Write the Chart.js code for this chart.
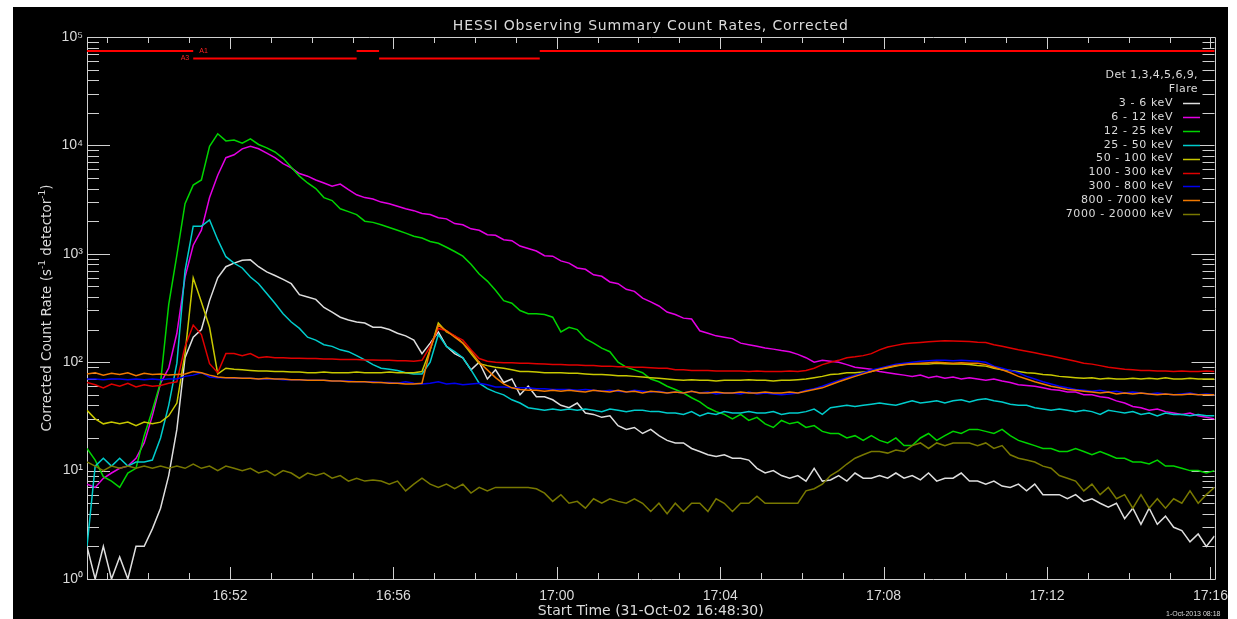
<!DOCTYPE html>
<html>
<head>
<meta charset="utf-8">
<title>HESSI Observing Summary Count Rates, Corrected</title>
<script src="https://cdn.jsdelivr.net/npm/chart.js@4.4.1/dist/chart.umd.min.js"></script>
<style>
html, body { margin: 0; padding: 0; background: #ffffff; }
canvas { display: block; }
</style>
</head>
<body>
<canvas id="rates" width="1237" height="619"></canvas>
<script>
// Bin start times, seconds after 31-Oct-02 16:48:30 UT
const binTimes = [0,12,24,36,48,60,72,84,96,108,120,132,144,156,168,180,192,204,216,228,240,252,264,276,288,300,312,324,336,348,360,372,384,396,408,420,432,444,456,468,480,492,504,516,528,540,552,564,576,588,600,612,624,636,648,660,672,684,696,708,720,732,744,756,768,780,792,804,816,828,840,852,864,876,888,900,912,924,936,948,960,972,984,996,1008,1020,1032,1044,1056,1068,1080,1092,1104,1116,1128,1140,1152,1164,1176,1188,1200,1212,1224,1236,1248,1260,1272,1284,1296,1308,1320,1332,1344,1356,1368,1380,1392,1404,1416,1428,1440,1452,1464,1476,1488,1500,1512,1524,1536,1548,1560,1572,1584,1596,1608,1620,1632,1644,1656];

// Corrected count rates (s^-1 detector^-1) per energy band
const rate3to6 = [2,1,2,1,1.6,1,2,2,2.9,4.5, 9,24,110,170,200,370,600,760,820,870, 880,760,680,630,580,530,420,400,380,320, 290,260,245,235,230,210,210,200,185,175, 160,120,150,190,140,120,110,85,100,70, 85,65,70,50,60,48,48,45,40,38, 42,34,33,31,32,26,24,25,22,24, 21,19,18,18,16,15,14,13.5,14,13, 13,12.5,10.5,9.5,10,9,8.5,9,8,10.5, 8,8.2,9,8,9.5,8.5,8.5,9,8.5,9.5, 8.5,9,8.2,9.5,8,8.5,8.5,9.5,8,8, 7.5,8,7.2,7,7.5,6.5,7.5,6,6,6, 5.5,6,5.2,5.5,5,4.6,5,3.6,4.5,3.2, 4.5,3.2,3.8,3,2.8,2.2,2.6,2,2.5];
const rate6to12 = [7.5,7,8.5,9.5,10.5,11,13,18,32,64, 88,185,610,1200,1650,3300,5300,7700,8200,9300, 9800,9300,8500,7700,6800,6200,5500,5200,4800,4500, 4200,4400,3900,3500,3300,3200,3000,2900,2750,2600, 2500,2350,2300,2150,2100,1900,1850,1700,1650,1500, 1480,1350,1320,1180,1120,1060,960,950,860,820, 740,720,640,620,550,530,470,450,390,360, 330,290,275,255,250,195,185,175,170,165, 150,145,140,135,132,128,125,118,110,100, 104,102,100,95,90,88,86,82,80,78, 76,74,76,72,74,71,73,70,72,70, 68,70,67,65,62,61,60,58,56,55, 53,53,50,50,48,47,44,42,39,38, 36,37,35,34,33,34,32,31,30];
const rate12to25 = [16,12.5,8.8,8,7,9.5,10.5,21,36,65, 340,970,2900,4300,4800,9800,12800,11000,11200,10500, 11500,10200,9500,8700,7600,6300,5200,4500,4000,3300, 3100,2600,2450,2300,2000,1950,1850,1750,1650,1550, 1450,1400,1300,1250,1150,1050,950,800,650,560, 460,370,350,300,280,280,275,260,190,210, 200,165,150,135,125,100,90,85,80,70, 66,60,56,52,47,43,38,35,33,30, 33,29,31,27,25,29,27,28,25,26, 23,22,22,20,21,19,21,19,18,20, 17,17,20,22,19,21,23,22,24,24, 23,22,24,21,19,18,17,16,16,15, 15,16,15,14,15,14,13,13,12,12, 11.5,12.5,11,11,10.5,10,10,9.5,10];
const rate25to50 = [2,11,13,11,13,11,12,12,12.5,20, 40,98,700,1800,1800,2050,1350,940,820,740, 610,530,430,350,280,235,205,170,160,145, 140,130,125,115,105,95,88,86,84,80, 78,78,100,180,140,125,110,85,64,57, 53,50,45,42,38,37,36,37,36,37, 36,37,36,35,37,36,35,36,36,35, 35,34,34,33,35,32,34,33,35,34, 34,35,34,34,35,33,34,34,35,37, 33,38,39,40,39,40,41,42,41,40, 42,44,42,43,44,42,44,45,43,45, 46,44,43,41,40,40,38,37,36,37, 36,35,36,35,33,36,35,34,35,33, 34,32,34,33,33,32,33,32,32];
const rate50to100 = [36,30,27,28,27,28,26,28,27,28, 32,42,120,600,360,210,78,88,86,85, 84,83,83,82,82,81,81,80,80,81, 80,80,80,81,80,80,80,81,80,80, 80,82,130,230,190,175,150,120,97,93, 90,88,85,82,82,81,80,80,80,79, 79,78,77,77,76,75,75,74,73,72, 71,70,69,68,69,68,68,67,68,68, 68,69,68,68,67,68,68,69,70,72, 74,77,78,80,80,81,82,86,89,92, 95,96,97,96,98,97,96,96,95,93, 92,88,85,84,82,80,79,77,76,74, 73,72,71,72,70,71,70,70,71,70, 71,70,72,70,70,71,70,70,70];
const rate100to300 = [65,62,58,63,60,64,59,62,60,61, 64,66,140,220,180,97,80,120,120,115, 120,110,112,110,110,109,109,108,108,107, 107,106,106,106,105,105,104,104,103,103, 102,104,140,205,195,175,160,130,108,102, 100,99,99,98,98,97,96,95,95,94, 94,93,93,92,92,91,91,90,90,89, 88,88,85,85,84,84,84,83,83,83, 83,82,83,82,82,82,83,82,84,88, 95,100,104,110,112,115,120,130,138,143, 148,150,152,154,156,158,157,156,155,153, 152,145,140,135,130,126,122,118,114,110, 106,102,98,96,93,90,88,86,85,84, 84,83,83,82,83,82,82,83,82];
const rate300to800 = [70,70,69,70,70,69,70,69,70,69, 70,70,74,76,80,73,72,72,71,71, 71,70,70,70,69,69,69,68,68,68, 67,67,67,66,66,66,65,65,64,66, 64,63,64,66,63,64,62,63,64,62, 59,59,58,58,58,57,57,56,56,56, 55,56,55,54,55,54,53,55,54,53, 54,52,53,52,54,52,53,51,52,52, 51,53,51,52,51,50,51,52,55,57, 60,64,68,72,76,80,85,88,92,96, 98,100,102,103,104,104,103,104,103,102, 100,92,88,84,80,74,70,66,63,60, 58,56,55,54,55,53,54,52,53,52, 51,52,51,50,51,52,50,51,50];
const rate800to7000 = [78,80,76,79,77,80,75,79,77,78, 76,77,78,82,80,76,73,72,72,71, 71,70,71,70,70,69,69,68,68,68, 67,67,66,66,66,65,65,64,64,63, 63,64,130,220,195,170,150,125,100,85, 72,63,58,56,55,55,54,55,54,55, 54,53,55,54,53,55,53,54,52,54, 53,52,53,52,54,52,52,53,52,52, 53,52,52,53,52,52,53,52,54,56, 58,62,66,70,74,78,82,86,90,93, 95,97,98,99,100,99,98,99,98,98, 95,90,85,80,74,70,66,63,60,58, 56,55,54,53,52,53,51,52,51,52, 51,50,51,50,50,51,50,50,50];
const rate7000to20000 = [12,11,10,11,10.5,11,10.5,11,10.5,11, 10.5,11,10.5,11.5,10.5,11,10,11,10.5,10, 10.5,9.5,10,9,10,9.5,8.5,9.5,9,9.5, 8.5,9,8,8.5,8,8.2,8,7.5,8,6.5, 7.5,8.5,7.5,7,7.5,6.8,7.5,6.2,7,6.5, 7,7,7,7,7,6.8,6.2,5.2,6,5, 5.2,4.5,5.5,5,5.5,5.2,5,5.5,5,4.2, 5,4,5,4.2,5,5,4.2,5.5,5,4.2, 5,5,5.8,5,5,5,5,5,6.5,6.8, 7.5,9,10,11.5,13,14,15,15,14.5,15.5, 15,17,18,16,18,17,18,18,18,17, 18,16,17,14,13,12.5,12,11,10.5,9, 8.5,8,6.5,7.5,6,7,5.5,6,4.5,6, 4.5,5.5,4.5,5.5,5,6.5,5,6,7];

const bandNames = ['3 - 6 keV','6 - 12 keV','12 - 25 keV','25 - 50 keV','50 - 100 keV','100 - 300 keV','300 - 800 keV','800 - 7000 keV','7000 - 20000 keV'];
const bandRates = [rate3to6, rate6to12, rate12to25, rate25to50, rate50to100, rate100to300, rate300to800, rate800to7000, rate7000to20000];
const bandColors = ['#dedede','#e400e4','#00d400','#00cccc','#c8c800','#e00000','#0000f0','#f07800','#787800'];

// Axis ticks
const xTickSeconds = [210,450,690,930,1170,1410,1650];
const xTickLabels = ['16:52','16:56','17:00','17:04','17:08','17:12','17:16'];
const yTickValues = [1,10,100,1000,10000,100000];
const yTickLabels = ['10\u2070','10\u00b9','10\u00b2','10\u00b3','10\u2074','10\u2075'];

// Attenuator state intervals (seconds after start)
const attenuatorState = ['A1','A3','A1','A3','A1'];
const attenuatorStart = [0,156,396,429,665];
const attenuatorEnd = [156,396,429,665,1656];

const detectorNote = ['Det 1,3,4,5,6,9,', 'Flare'];
const plotTitle = 'HESSI Observing Summary Count Rates, Corrected';
const xAxisTitle = 'Start Time (31-Oct-02 16:48:30)';
const stampText = '1-Oct-2013 08:18';

const AXIS_COLOR = '#d0d0d0';
const TEXT_COLOR = '#dadada';

function drawText(ctx, str, x, y, font, color, align, baseline, spacing) {
  ctx.save();
  ctx.font = font;
  ctx.fillStyle = color;
  ctx.textAlign = align || 'left';
  ctx.textBaseline = baseline || 'alphabetic';
  ctx.letterSpacing = spacing || '0px';
  ctx.fillText(str, x, y);
  ctx.restore();
}

const idlStyle = {
  id: 'idlStyle',
  beforeDraw(chart) {
    const ctx = chart.ctx;
    ctx.save();
    ctx.fillStyle = '#ffffff';
    ctx.fillRect(0, 0, chart.width, chart.height);
    ctx.fillStyle = '#000000';
    ctx.fillRect(13, 7, 1215, 612);
    ctx.restore();
  },
  beforeDatasetsDraw(chart) {
    const ctx = chart.ctx;
    const { left, right, top, bottom } = chart.chartArea;
    const xs = chart.scales.x, ys = chart.scales.y;
    ctx.save();
    ctx.strokeStyle = AXIS_COLOR;
    ctx.lineWidth = 1;
    ctx.beginPath();
    ctx.rect(Math.round(left) + 0.5, Math.round(top) + 0.5, Math.round(right - left), Math.round(bottom - top));
    ctx.stroke();
    // time ticks: every minute, long ones at labelled times
    ctx.beginPath();
    for (let s = 30; s <= xs.max; s += 60) {
      const px = Math.round(xs.getPixelForValue(s)) + 0.5;
      const len = xTickSeconds.includes(s) ? 12 : 6;
      ctx.moveTo(px, bottom); ctx.lineTo(px, bottom - len);
      ctx.moveTo(px, top); ctx.lineTo(px, top + len);
    }
    // count-rate ticks: decades long, 2..9 short
    for (let d = 0; d < yTickValues.length; d++) {
      const base = yTickValues[d];
      for (let m = 1; m <= 9; m++) {
        const v = base * m;
        if (v > ys.max || (m > 1 && d === yTickValues.length - 1)) continue;
        const py = Math.round(ys.getPixelForValue(v)) + 0.5;
        const len = m === 1 ? 23 : 12;
        ctx.moveTo(left, py); ctx.lineTo(left + len, py);
        ctx.moveTo(right, py); ctx.lineTo(right - len, py);
      }
    }
    ctx.stroke();
    ctx.restore();
  },
  afterDraw(chart) {
    const ctx = chart.ctx;
    const { left, right, top, bottom } = chart.chartArea;
    const xs = chart.scales.x;
    const cx = (left + right) / 2;

    // attenuator state bars
    ctx.save();
    ctx.strokeStyle = '#ff0000';
    ctx.lineWidth = 2;
    for (let i = 0; i < attenuatorState.length; i++) {
      const yy = attenuatorState[i] === 'A1' ? top + 14 : top + 21.5;
      ctx.beginPath();
      ctx.moveTo(xs.getPixelForValue(attenuatorStart[i]), yy);
      ctx.lineTo(xs.getPixelForValue(attenuatorEnd[i]), yy);
      ctx.stroke();
    }
    ctx.restore();
    const firstChange = xs.getPixelForValue(attenuatorEnd[0]);
    drawText(ctx, attenuatorState[0], firstChange + 6, top + 14, '7px "Liberation Sans"', '#ff2020', 'left', 'middle');
    drawText(ctx, attenuatorState[1], firstChange - 4, top + 21.5, '7px "Liberation Sans"', '#ff2020', 'right', 'middle');

    // title and axis titles
    drawText(ctx, plotTitle, cx, 29.5, '14px "DejaVu Sans"', TEXT_COLOR, 'center', 'alphabetic', '0.85px');
    drawText(ctx, xAxisTitle, cx, 611, '14px "DejaVu Sans"', TEXT_COLOR, 'center', 'middle', '0px');

    // rotated count-rate title with superscripts
    const parts = [
      { t: 'Corrected Count Rate (s', sup: false },
      { t: '-1', sup: true },
      { t: ' detector', sup: false },
      { t: '-1', sup: true },
      { t: ')', sup: false }
    ];
    const mainFont = '13.5px "DejaVu Sans"', supFont = '9px "DejaVu Sans"';
    ctx.save();
    ctx.fillStyle = TEXT_COLOR;
    ctx.textBaseline = 'middle';
    let total = 0;
    for (const p of parts) { ctx.font = p.sup ? supFont : mainFont; total += ctx.measureText(p.t).width; }
    ctx.translate(47.5, (top + bottom) / 2);
    ctx.rotate(-Math.PI / 2);
    let px = -total / 2;
    for (const p of parts) {
      ctx.font = p.sup ? supFont : mainFont;
      ctx.fillText(p.t, px, p.sup ? -5 : 0);
      px += ctx.measureText(p.t).width;
    }
    ctx.restore();

    // legend, right-aligned with line samples
    const textRight = 1173, lineL = 1183, lineR = 1200;
    drawText(ctx, detectorNote[0], 1198, 75, '11px "DejaVu Sans"', TEXT_COLOR, 'right', 'middle', '0.4px');
    drawText(ctx, detectorNote[1], 1198, 89, '11px "DejaVu Sans"', TEXT_COLOR, 'right', 'middle', '0.4px');
    for (let i = 0; i < bandNames.length; i++) {
      const yy = 103 + i * 13.9;
      drawText(ctx, bandNames[i], textRight, yy, '11px "DejaVu Sans"', TEXT_COLOR, 'right', 'middle', '0.6px');
      ctx.save();
      ctx.strokeStyle = bandColors[i];
      ctx.lineWidth = 1.5;
      ctx.beginPath();
      ctx.moveTo(lineL, Math.round(yy) + 0.5);
      ctx.lineTo(lineR, Math.round(yy) + 0.5);
      ctx.stroke();
      ctx.restore();
    }

    // plot time stamp
    ctx.save();
    ctx.beginPath();
    ctx.rect(13, 7, 1215, 612);
    ctx.clip();
    drawText(ctx, stampText, 1166, 614, '7px "Liberation Sans"', TEXT_COLOR, 'left', 'middle');
    ctx.restore();
  }
};

const datasets = bandNames.map((name, i) => ({
  label: name,
  data: bandRates[i],
  borderColor: bandColors[i],
  borderWidth: 1.5,
  pointRadius: 0,
  tension: 0,
  fill: false,
  order: bandNames.length - i
}));

new Chart(document.getElementById('rates'), {
  type: 'line',
  data: { labels: binTimes, datasets },
  plugins: [idlStyle],
  options: {
    responsive: false,
    animation: false,
    events: [],
    layout: { padding: { left: 0, right: 17, top: 37, bottom: 0 } },
    plugins: { legend: { display: false }, title: { display: false }, tooltip: { enabled: false } },
    scales: {
      x: {
        type: 'linear',
        min: 0,
        max: 1656,
        grid: { display: false, drawTicks: false },
        border: { display: false },
        afterBuildTicks: s => { s.ticks = xTickSeconds.map(v => ({ value: v })); },
        afterFit: s => { s.height = 40; },
        ticks: {
          autoSkip: false, maxRotation: 0, minRotation: 0, padding: 9,
          color: TEXT_COLOR,
          font: { family: 'Liberation Sans', size: 14 },
          callback: (v, i) => xTickLabels[i]
        }
      },
      y: {
        type: 'logarithmic',
        min: 1,
        max: 100000,
        grid: { display: false, drawTicks: false },
        border: { display: false },
        afterBuildTicks: s => { s.ticks = yTickValues.map(v => ({ value: v })); },
        afterFit: s => { s.width = 87; },
        ticks: {
          autoSkip: false, padding: 4,
          color: TEXT_COLOR,
          font: { family: 'Liberation Sans', size: 14 },
          callback: (v, i) => yTickLabels[i]
        }
      }
    }
  }
});
</script>
</body>
</html>
